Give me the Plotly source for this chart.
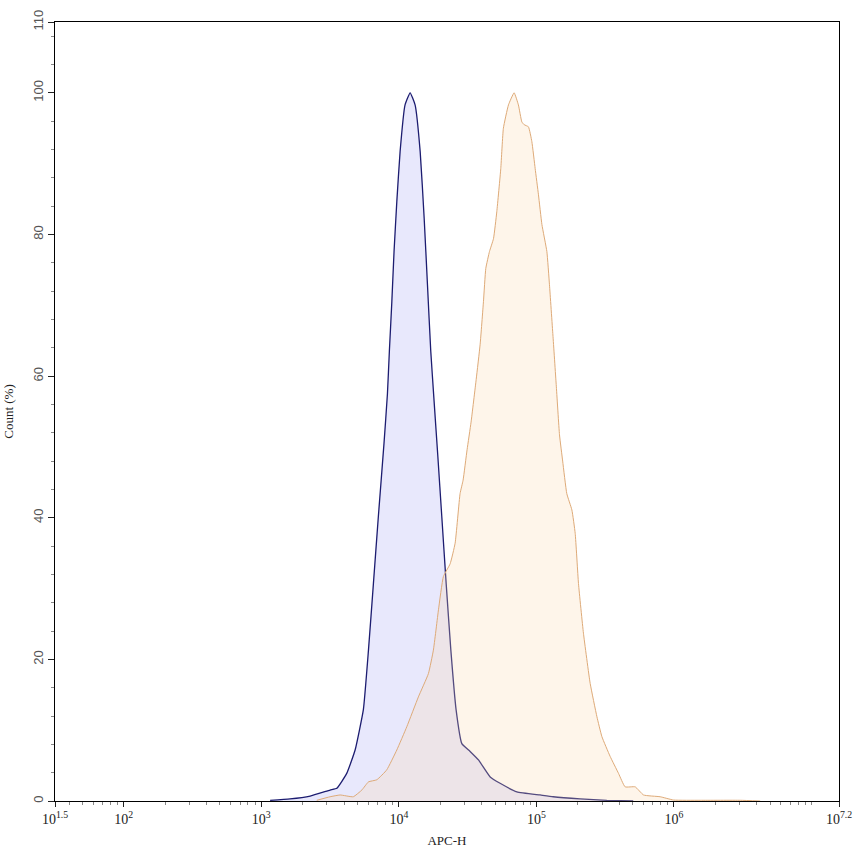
import plotly.graph_objects as go

# Blue histogram (control): log10(APC-H) and Count (%)
blue_log = [3.064, 3.209, 3.355, 3.500, 3.549, 3.621, 3.682, 3.742, 3.779, 3.815, 3.851,
            3.892, 3.917, 3.931, 3.949, 3.965, 3.985, 4.009, 4.045, 4.082, 4.118, 4.155,
            4.184, 4.208, 4.232, 4.256, 4.284, 4.312, 4.344, 4.378, 4.416, 4.458, 4.518,
            4.579, 4.664, 4.736, 4.858, 5.027, 5.122, 5.318, 5.512, 5.704]
blue_cnt = [0.1, 0.3, 0.7, 1.55, 1.8, 3.9, 7.2, 12.9, 21.3, 30.7, 40.2,
            50.5, 57.5, 63.5, 70.5, 77.6, 84.6, 91.7, 98.3, 100.0, 98.3, 91.7,
            82.3, 72.9, 63.5, 56.5, 48.5, 40.2, 30.7, 21.3, 12.9, 8.1, 7.0,
            5.8, 3.4, 2.5, 1.3, 0.85, 0.6, 0.3, 0.1, 0.0]

# Orange histogram (stained)
orange_log = [3.403, 3.500, 3.573, 3.669, 3.731, 3.779, 3.840, 3.912, 3.985, 4.058, 4.142,
              4.215, 4.251, 4.288, 4.324, 4.373, 4.409, 4.445, 4.467, 4.496, 4.525, 4.562,
              4.591, 4.615, 4.632, 4.659, 4.688, 4.712, 4.741, 4.760, 4.797, 4.838, 4.869,
              4.894, 4.911, 4.942, 4.967, 4.991, 5.015, 5.040, 5.076, 5.095, 5.120, 5.144,
              5.168, 5.191, 5.221, 5.258, 5.282, 5.306, 5.342, 5.391, 5.440, 5.476, 5.536,
              5.597, 5.645, 5.718, 5.779, 5.900, 5.997, 6.191, 6.482, 6.627]
orange_cnt = [0.1, 0.6, 0.85, 0.6, 1.55, 2.7, 3.0, 4.4, 7.2, 10.5, 14.7,
              18.0, 21.3, 27.0, 31.7, 33.5, 36.4, 43.4, 45.3, 49.6, 53.5, 59.5,
              64.5, 70.5, 75.2, 77.6, 79.4, 83.2, 89.3, 95.0, 98.3, 100.0, 98.3,
              95.9, 95.5, 95.2, 93.1, 89.3, 85.6, 81.4, 77.6, 72.9, 65.8, 58.8,
              51.7, 48.0, 43.4, 41.1, 37.8, 30.7, 23.7, 16.6, 11.9, 9.1, 6.3,
              3.9, 2.0, 2.0, 0.85, 0.6, 0.14, 0.1, 0.1, 0.0]

x_tick_exp = [1.5, 2, 3, 4, 5, 6, 7.2]
x_tick_text = ["10<sup>1.5</sup>", "10<sup>2</sup>", "10<sup>3</sup>", "10<sup>4</sup>",
               "10<sup>5</sup>", "10<sup>6</sup>", "10<sup>7.2</sup>"]
y_tick_vals = [0, 20, 40, 60, 80, 100, 110]

blue_x = [10 ** v for v in blue_log]
orange_x = [10 ** v for v in orange_log]

fig = go.Figure()
fig.add_trace(go.Scatter(x=blue_x, y=blue_cnt, mode="lines", fill="tozeroy",
                         line=dict(color="#1c1c70", width=1.3, shape="spline", smoothing=0.4),
                         fillcolor="rgba(180,180,245,0.31)", showlegend=False))
fig.add_trace(go.Scatter(x=orange_x, y=orange_cnt, mode="lines", fill="tozeroy",
                         line=dict(color="#deaa78", width=1, shape="spline", smoothing=0.4),
                         fillcolor="rgba(250,215,170,0.25)", showlegend=False))

serif = "Liberation Serif, Times New Roman, serif"
fig.update_layout(
    width=853, height=856,
    margin=dict(l=55, r=14, t=22, b=55),
    paper_bgcolor="white", plot_bgcolor="white",
    font=dict(family=serif, color="#222"),
    xaxis=dict(type="log", range=[1.5, 7.2], automargin=False,
               tickvals=[10 ** e for e in x_tick_exp], ticktext=x_tick_text,
               tickfont=dict(family=serif, size=14, color="#222"),
               ticks="outside", ticklen=5, tickcolor="#222",
               minor=dict(ticks="outside", ticklen=3, dtick="D1", tickcolor="#888"),
               showline=True, linecolor="black", linewidth=1, mirror=True,
               showgrid=False, zeroline=False,
               title=dict(text="APC-H", font=dict(family=serif, size=13, color="#222"), standoff=10)),
    yaxis=dict(range=[0, 110], tickvals=y_tick_vals, automargin=False,
               tickfont=dict(family="Liberation Sans, Arial, sans-serif", size=13, color="#555"),
               tickangle=-90,
               ticks="outside", ticklen=6, tickcolor="#222",
               minor=dict(ticks="outside", ticklen=3, dtick=4, tickcolor="#888"),
               showline=True, linecolor="black", linewidth=1, mirror=True,
               showgrid=False, zeroline=False,
               title=dict(text="Count (%)", font=dict(family=serif, size=13, color="#222"), standoff=14)),
)

fig.write_html("out.html", config={"displayModeBar": False},
               post_script="document.body.style.margin='0';document.body.style.overflow='hidden';")
